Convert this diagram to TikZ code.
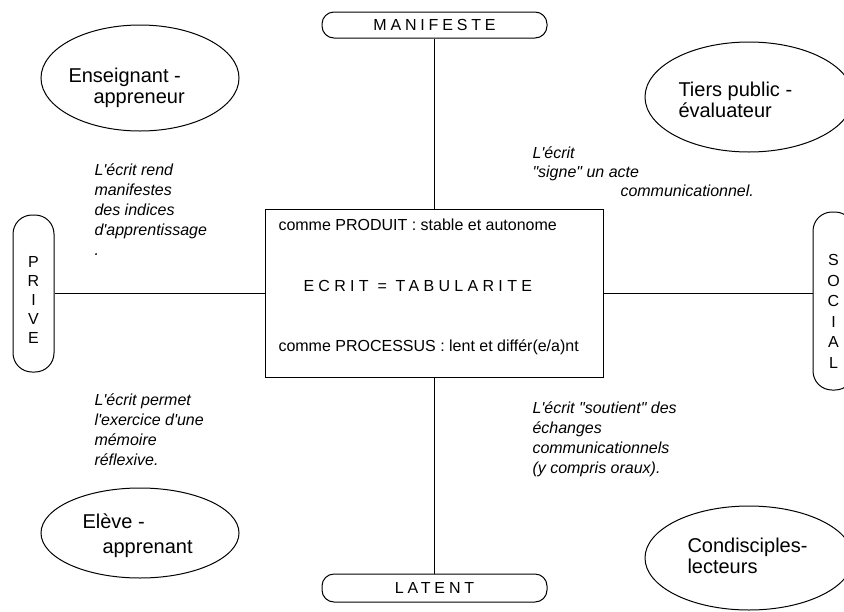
\documentclass[tikz,border=0pt]{standalone}
\usepackage{fontspec}
\newfontfamily\diagfont{Liberation Sans}
\newfontfamily\diagspaced[LetterSpace=24]{Liberation Sans}
\newfontfamily\diagwide[LetterSpace=27]{Liberation Sans}
\usetikzlibrary{positioning,shapes.geometric}

\begin{document}
\begin{tikzpicture}[x=1pt, y=-1pt, line width=1pt,
    font=\diagfont\fontsize{16}{20}\selectfont,
    pole/.style={draw, rounded corners=12pt, inner sep=0pt, minimum width=225pt,
      font=\diagspaced\fontsize{16}{19}\selectfont},
    sidepole/.style={draw, rounded corners=19pt, inner sep=0pt, minimum width=41pt, align=center, text depth=0pt},
    actor/.style={draw, ellipse, inner sep=0pt},
    actorname/.style={anchor=base west, align=left, inner sep=0pt,
      font=\diagfont\fontsize{20}{21}\selectfont},
    remark/.style={anchor=base west, align=left, inner sep=0pt,
      font=\diagfont\itshape\fontsize{16}{20}\selectfont}]
  \useasboundingbox (0,0) rectangle (844,611);

  \node[pole, minimum height=26pt] (manif) at (434.5,25) {MANIFESTE};
  \node[pole, minimum height=28pt] (latent) at (434.5,588) {LATENT};
  \node[sidepole, minimum height=157pt, text height=100pt, font=\diagfont\fontsize{16}{19}\selectfont] (prive) at (33.5,293.5) {P\\R\\I\\V\\E};
  \node[sidepole, minimum height=178pt, text height=134pt, font=\diagfont\fontsize{16}{20.5}\selectfont] (social) at (833.5,301) {S\\O\\C\\I\\A\\L};

  \node[draw, minimum width=338pt, minimum height=168pt, inner sep=0pt] (ecrit) at (434,293) {};
  \node[anchor=west, inner sep=0pt] (produit) at (278,225) {comme PRODUIT : stable et autonome};
  \node[anchor=west, inner sep=0pt, font=\diagwide\fontsize{16}{20}\selectfont] (tabul) at (303,286) {ECRIT = TABULARITE};
  \node[anchor=west, inner sep=0pt] (processus) at (278,347) {comme PROCESSUS : lent et différ(e/a)nt};

  \draw (manif.south) -- (manif.south |- ecrit.north);
  \draw (ecrit.south) -- (ecrit.south |- latent.north);
  \draw (prive.east) -- (prive.east -| ecrit.west);
  \draw (ecrit.east) -- (ecrit.east -| social.west);

  \node[actor, minimum width=198pt, minimum height=106pt] (enseignant) at (140,78) {};
  \node[actor, minimum width=208pt, minimum height=110pt] (tiers) at (749,97) {};
  \node[actor, minimum width=198pt, minimum height=90pt] (eleve) at (140,533) {};
  \node[actor, minimum width=208pt, minimum height=104pt] (condis) at (749,558) {};

  \node[actorname] (enseignanttxt) at (68,103) {Enseignant -\\\hspace*{25pt}appreneur};
  \node[actorname] (tierstxt) at (678,117) {Tiers public -\\évaluateur};
  \node[actorname] (elevetxt) at (82,553) {Elève -\\[4pt]\hspace*{20pt}apprenant};
  \node[actorname] (condistxt) at (687,573) {Condisciples-\\lecteurs};

  \node[remark] (rend) at (94,255) {L'écrit rend\\manifestes\\des indices\\d'apprentissage\\.};
  \node[remark] (permet) at (94,465) {L'écrit permet\\l'exercice d'une\\mémoire\\réflexive.};
  \node[remark, font=\diagfont\itshape\fontsize{16}{19}\selectfont] (signe) at (532,196) {L'écrit\\"signe" un acte\\\hspace*{88pt}communicationnel.};
  \node[remark] (soutient) at (532,473) {L'écrit "soutient" des\\échanges\\communicationnels\\(y compris oraux).};
\end{tikzpicture}
\end{document}
